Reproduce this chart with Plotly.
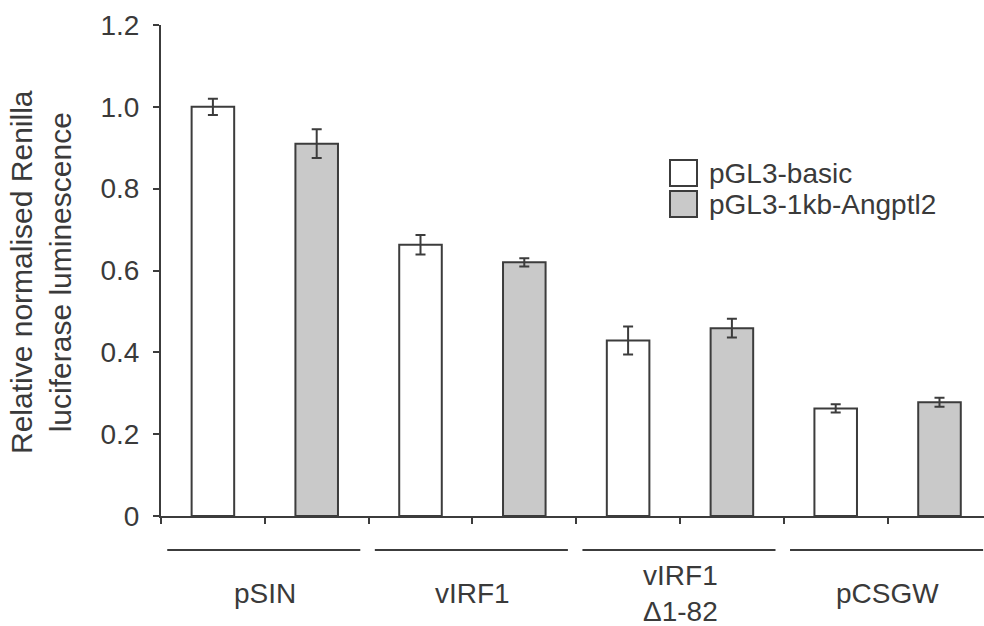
import plotly.graph_objects as go

# ---- data ----
groups = ["pSIN", "vIRF1", "vIRF1<br>Δ1-82", "pCSGW"]
series_names = ["pGL3-basic", "pGL3-1kb-Angptl2"]
basic_vals = [1.0, 0.663, 0.429, 0.263]
basic_err = [0.02, 0.024, 0.034, 0.01]
angptl_vals = [0.91, 0.62, 0.459, 0.278]
angptl_err = [0.035, 0.01, 0.023, 0.011]
y_tickvals = [0, 0.2, 0.4, 0.6, 0.8, 1.0, 1.2]
y_ticktext = ["0", "0.2", "0.4", "0.6", "0.8", "1.0", "1.2"]

# ---- style ----
W, H = 984, 626
L, R, T, B = 161, 0, 25, 110
PW, PH = W - L - R, H - T - B
FONT = "Liberation Sans, Arial, sans-serif"
TXT = "#3a3a3a"
EDGE = "#3c3c3c"
GRAY = "#c9c9c9"
FS = 28


def px_x(p):
    return (p - L) / PW


def px_y(p):
    return (H - B - p) / PH


n = len(groups)
x_basic = [2 * i + 0.5 for i in range(n)]
x_ang = [2 * i + 1.5 for i in range(n)]

fig = go.Figure()
fig.add_trace(go.Bar(
    x=x_basic, y=basic_vals, width=0.41, name=series_names[0],
    marker=dict(color="white", line=dict(color=EDGE, width=2)),
    error_y=dict(type="data", array=basic_err, color=EDGE, thickness=2, width=5),
    showlegend=False,
))
fig.add_trace(go.Bar(
    x=x_ang, y=angptl_vals, width=0.41, name=series_names[1],
    marker=dict(color=GRAY, line=dict(color=EDGE, width=2)),
    error_y=dict(type="data", array=angptl_err, color=EDGE, thickness=2, width=5),
    showlegend=False,
))

shapes = []
annotations = []
# group underline + labels
for i, g in enumerate(groups):
    shapes.append(dict(type="line", xref="x", yref="paper",
                       x0=2 * i + 0.06, x1=2 * i + 1.92,
                       y0=px_y(550), y1=px_y(550),
                       line=dict(color=EDGE, width=2)))
    annotations.append(dict(x=2 * i + 1, y=px_y(593), xref="x", yref="paper",
                            text=g, showarrow=False, xanchor="center", yanchor="middle",
                            font=dict(size=FS, color=TXT, family=FONT)))

# manual legend with large swatches
leg_rows = [(173, "white"), (204, GRAY)]
for (cy, col), nm in zip(leg_rows, series_names):
    shapes.append(dict(type="rect", xref="paper", yref="paper",
                       x0=px_x(670), x1=px_x(697), y0=px_y(cy - 13), y1=px_y(cy + 13),
                       fillcolor=col, line=dict(color=EDGE, width=2)))
    annotations.append(dict(x=px_x(707), y=px_y(cy), xref="paper", yref="paper",
                            text=nm, showarrow=False, xanchor="left", yanchor="middle",
                            font=dict(size=FS, color=TXT, family=FONT)))

# y-axis title (two lines)
annotations.append(dict(x=px_x(41), y=px_y(272), xref="paper", yref="paper",
                        text="Relative normalised Renilla<br>luciferase luminescence",
                        textangle=-90, showarrow=False, xanchor="center", yanchor="middle",
                        font=dict(size=30, color=TXT, family=FONT)))

fig.update_layout(
    width=W, height=H,
    margin=dict(l=L, r=R, t=T, b=B),
    paper_bgcolor="white", plot_bgcolor="white",
    barmode="overlay",
    shapes=shapes, annotations=annotations,
    font=dict(family=FONT, size=FS, color=TXT),
)
fig.update_xaxes(
    range=[0, (W - L) / 103.8], tickvals=list(range(0, 2 * n + 1)),
    showticklabels=False, ticks="outside", ticklen=6, tickwidth=2, tickcolor=EDGE,
    showline=True, linecolor=EDGE, linewidth=2, showgrid=False, zeroline=False,
)
fig.update_yaxes(
    range=[0, 1.2], tickvals=y_tickvals, ticktext=y_ticktext,
    ticks="outside", ticklen=6, tickwidth=2, tickcolor=EDGE,
    showline=True, linecolor=EDGE, linewidth=2, showgrid=False, zeroline=False,
    tickfont=dict(size=FS, color=TXT, family=FONT), ticklabelstandoff=8,
)

fig.write_html("out.html")
